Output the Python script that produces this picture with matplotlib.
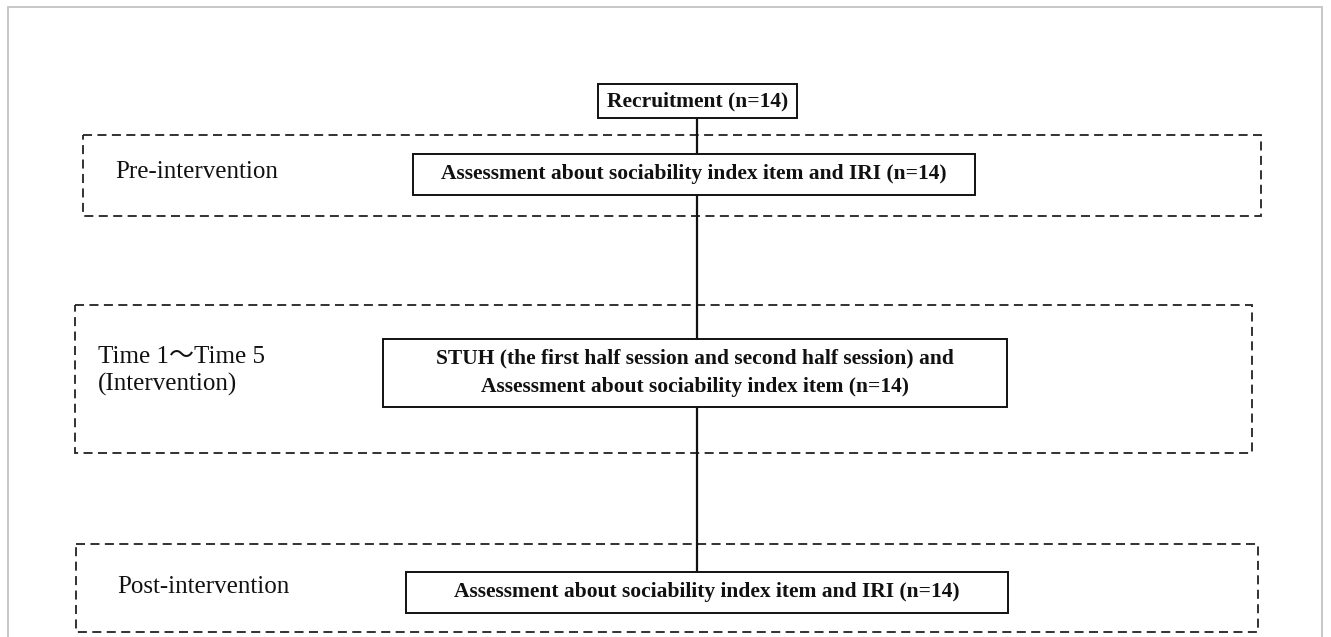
import matplotlib
matplotlib.use("Agg")
import matplotlib.pyplot as plt
from matplotlib.patches import Rectangle

# ---- content ----
stage_labels = ["Pre-intervention", "Time 1\u301cTime 5\n(Intervention)", "Post-intervention"]
box_texts = [
    "Recruitment (n=14)",
    "Assessment about sociability index item and IRI (n=14)",
    "STUH (the first half session and second half session) and\nAssessment about sociability index item (n=14)",
    "Assessment about sociability index item and IRI (n=14)",
]

W, H = 1331, 637
fig = plt.figure(figsize=(W / 100, H / 100), dpi=100)
ax = fig.add_axes([0, 0, 1, 1])
ax.set_xlim(0, W)
ax.set_ylim(H, 0)
ax.axis("off")

serif = ["Liberation Serif", "Noto Sans CJK JP", "DejaVu Serif"]

# outer light-gray frame (left, top, right)
ax.plot([8, 8, 1322, 1322], [H + 5, 7, 7, H + 5], color="#c8c8c8", lw=1.4, solid_joinstyle="miter")

# dashed stage frames: (x0, y0, x1, y1)
stage_frames = [(83, 135, 1261, 216), (75, 305, 1252, 453), (76, 544, 1258, 632)]
stage_text_pos = [(115, 172), (98, 371), (117, 587)]
for (x0, y0, x1, y1), (tx, ty), lab in zip(stage_frames, stage_text_pos, stage_labels):
    ax.add_patch(Rectangle((x0, y0), x1 - x0, y1 - y0, fill=False, ec="#222222",
                           lw=1.3, ls=(0, (5, 3)), joinstyle="miter"))
    ax.text(tx, ty, lab, family=serif, fontsize=18, va="center", ha="left",
            color="#111111", linespacing=1.3)

# central vertical connector
cx = 697
ax.plot([cx, cx], [100, 572], color="#111111", lw=1.6, zorder=1)

# solid boxes
boxes = [(598, 84, 797, 118), (413, 154, 975, 195), (383, 339, 1007, 407), (406, 572, 1008, 613)]
for (x0, y0, x1, y1), t in zip(boxes, box_texts):
    ax.add_patch(Rectangle((x0, y0), x1 - x0, y1 - y0, fc="white", ec="#111111",
                           lw=1.4, zorder=2))
    ax.text((x0 + x1) / 2, (y0 + y1) / 2, t, family=serif, fontweight="bold",
            fontsize=15.5, ha="center", va="center", color="#111111", zorder=3,
            linespacing=1.55)

fig.savefig("out.png", dpi=100, facecolor="white")
